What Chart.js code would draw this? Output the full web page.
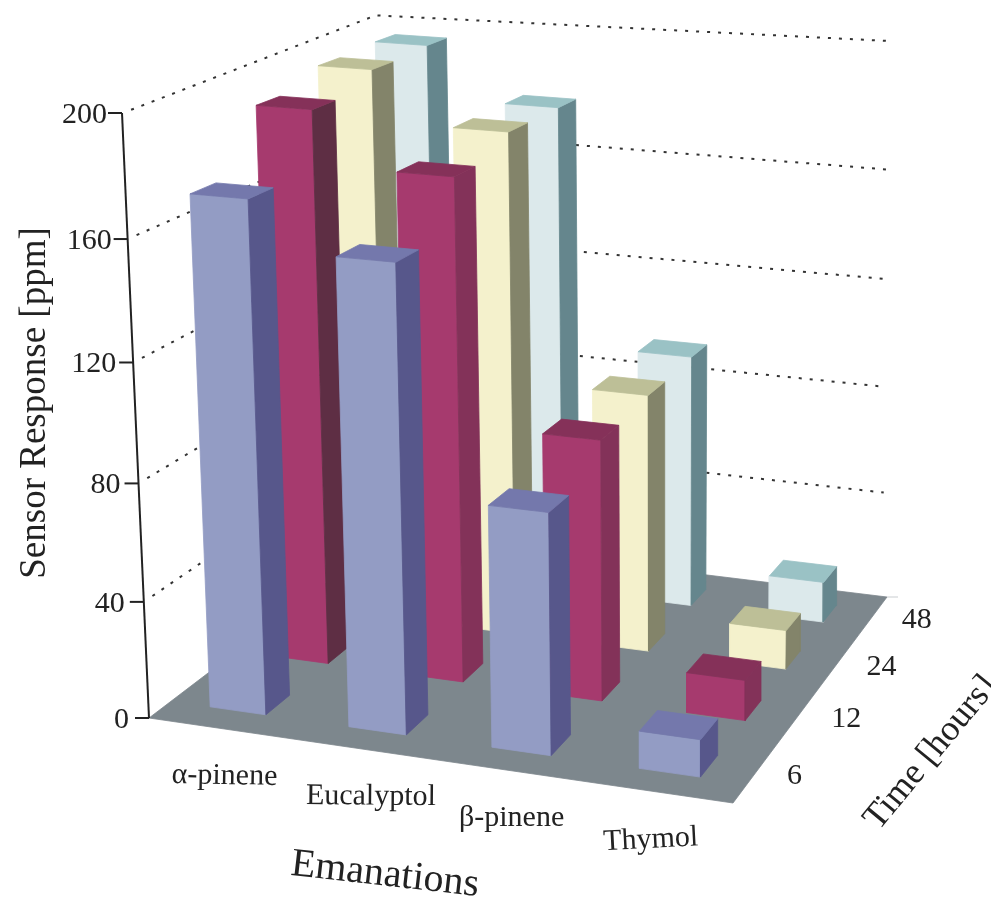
<!DOCTYPE html>
<html>
<head>
<meta charset="utf-8">
<title>Sensor response</title>
<script src="https://cdn.jsdelivr.net/npm/chart.js@4"></script>
<style>
    html, body { margin: 0; background: #fff; }
    canvas { display: block; }
</style>
</head>
<body>
<canvas id="barChart" width="991" height="899"></canvas>
<script>
const emanations = ["α-pinene", "Eucalyptol", "β-pinene", "Thymol"];
const timeLabels = ["6", "12", "24", "48"];
const responseTicks = [0, 40, 80, 120, 160, 200];

const response6h = [172.5, 156.5, 81, 12.5];
const response12h = [192.5, 174, 90.5, 14];
const response24h = [198, 180, 92.5, 14];
const response48h = [199, 180, 93.5, 15];
const seriesByTime = [response6h, response12h, response24h, response48h];

// front, side, top
const seriesColors = [
    ["#939cc4", "#57578b", "#7478ac"],
    ["#a63a6e", "#833259", "#853159"],
    ["#f4f1cc", "#83846a", "#bdbf97"],
    ["#dce9eb", "#65868d", "#9ac2c5"]
];

const barWidth = 0.405;
const barDepth = 0.37;
const barCentre = 0.49;
const axisMax = 200;
const wallRimLeft = 203;
const wallRimRight = 206;

// camera: floor corners (front left, front right, back right, back left) and axis top
const floorQuad = [[149, 718], [733, 803], [887, 597], [388, 536]];
const axisTop = [122, 113];
const depthK = -0.05;

const [p0, p1, p2, p3] = floorQuad;
const dx1 = p1[0] - p2[0], dx2 = p3[0] - p2[0], sx = p0[0] - p1[0] + p2[0] - p3[0];
const dy1 = p1[1] - p2[1], dy2 = p3[1] - p2[1], sy = p0[1] - p1[1] + p2[1] - p3[1];
const den = dx1 * dy2 - dx2 * dy1;
const g = (sx * dy2 - dx2 * sy) / den;
const h = (dx1 * sy - sx * dy1) / den;
const a = p1[0] - p0[0] + g * p1[0], b = p3[0] - p0[0] + h * p3[0];
const d = p1[1] - p0[1] + g * p1[1], e = p3[1] - p0[1] + h * p3[1];
const cx = axisTop[0] * (1 + depthK) - p0[0];
const cy = axisTop[1] * (1 + depthK) - p0[1];

// u along emanations, v along time, value in ppm
function project(u, v, value) {
    const w = value / axisMax;
    const q = g * u + h * v + 1 + depthK * w;
    return {
        x: (a * u + b * v + p0[0] + cx * w) / q,
        y: (d * u + e * v + p0[1] + cy * w) / q
    };
}

function face(points, color) {
    return {
        data: points.concat([points[0]]),
        showLine: true,
        fill: 'shape',
        backgroundColor: color,
        borderColor: color,
        borderWidth: 0.8,
        pointRadius: 0,
        tension: 0
    };
}

function stroke(points, color, width, dash) {
    return {
        data: points,
        showLine: true,
        fill: false,
        borderColor: color,
        borderWidth: width,
        borderDash: dash || [],
        pointRadius: 0,
        tension: 0
    };
}

const layers = [];

// dotted wall lines, the top one runs along the wall rim
responseTicks.forEach(function(t) {
    if (t === 0) return;
    const isTop = t === axisMax;
    layers.push(stroke([
        project(0, 0.03, t),
        project(0, 1, isTop ? wallRimLeft : t),
        project(0.99, 1, isTop ? wallRimRight : t)
    ], "#333333", 2, [3, 8]));
});

layers.push(face([project(0, 0, 0), project(1, 0, 0), project(1, 1, 0), project(0, 1, 0)], "#7d878d"));

// value axis with its tick marks
layers.push(stroke([project(0, 0, 0), project(0, 0, axisMax)], "#222222", 2));
responseTicks.forEach(function(t) {
    const p = project(0, 0, t);
    layers.push(stroke([p, {x: p.x - 14, y: p.y}], "#222222", 2));
});
const corner = project(1, 1, 0);
layers.push(stroke([corner, {x: corner.x + 11, y: corner.y}], "#c9cdd0", 1));

// bars, back row first so nearer ones paint over
for (let j = timeLabels.length - 1; j >= 0; j--) {
    emanations.forEach(function(name, i) {
        const val = seriesByTime[j][i];
        const u0 = (i + barCentre - barWidth / 2) / 4, u1 = (i + barCentre + barWidth / 2) / 4;
        const v0 = (j + 0.5 - barDepth / 2) / 4, v1 = (j + 0.5 + barDepth / 2) / 4;
        const colors = seriesColors[j];
        const side = (i === 0 && j === 1) ? "#5e2e44" : colors[1];
        layers.push(face([project(u0, v0, 0), project(u1, v0, 0), project(u1, v0, val), project(u0, v0, val)], colors[0]));
        layers.push(face([project(u1, v0, 0), project(u1, v1, 0), project(u1, v1, val), project(u1, v0, val)], side));
        layers.push(face([project(u0, v0, val), project(u1, v0, val), project(u1, v1, val), project(u0, v1, val)], colors[2]));
    });
}

const labelPlugin = {
    id: 'labels3d',
    afterDraw: function(chart) {
        const c = chart.ctx;
        const sx = chart.scales.x, sy = chart.scales.y;
        function text(str, p, size, angle, align) {
            c.save();
            c.translate(sx.getPixelForValue(p.x), sy.getPixelForValue(p.y));
            c.rotate(angle * Math.PI / 180);
            c.font = size + 'px "Liberation Serif"';
            c.fillStyle = "#222222";
            c.textAlign = align || 'center';
            c.textBaseline = 'middle';
            c.fillText(str, 0, 0);
            c.restore();
        }
        responseTicks.forEach(function(t) {
            const p = project(0, 0, t);
            text(String(t), {x: p.x - 20 + 5 * t / axisMax, y: p.y + 2}, 30, 0, 'right');
        });
        const tilts = [1, 0.5, 0, -3];
        const nameShift = [40, 48, 46, 38];
        emanations.forEach(function(name, i) {
            const p = project((i * 0.96 + 0.5) / 4, -0.12, 0);
            text(name, {x: p.x + nameShift[i], y: p.y + 21}, 30, tilts[i]);
        });
        const timeShift = [-10, 2, 1, 3];
        timeLabels.forEach(function(name, j) {
            const p = project(1.08, (j + 0.5) / 4, 0);
            text(name, {x: p.x + timeShift[j], y: p.y - 4}, 30, 0);
        });
        text("Sensor Response [ppm]", {x: 35, y: 403}, 37, -90);
        text("Emanations", {x: 385, y: 875}, 40, 6.5);
        text("Time [hours]", {x: 931, y: 753}, 36, -50.5);
    }
};

document.addEventListener('DOMContentLoaded', function() {
    const ctx = document.getElementById('barChart').getContext('2d');
    new Chart(ctx, {
        type: 'scatter',
        // first dataset ends up on top in Chart.js, so reverse the paint list
        data: { datasets: layers.slice().reverse() },
        options: {
            responsive: false,
            animation: false,
            layout: { padding: 0 },
            plugins: { legend: { display: false }, tooltip: { enabled: false } },
            scales: {
                x: { type: 'linear', display: false, min: 0, max: 991 },
                y: { type: 'linear', display: false, min: 0, max: 899, reverse: true }
            }
        },
        plugins: [labelPlugin]
    });
});
</script>
</body>
</html>
